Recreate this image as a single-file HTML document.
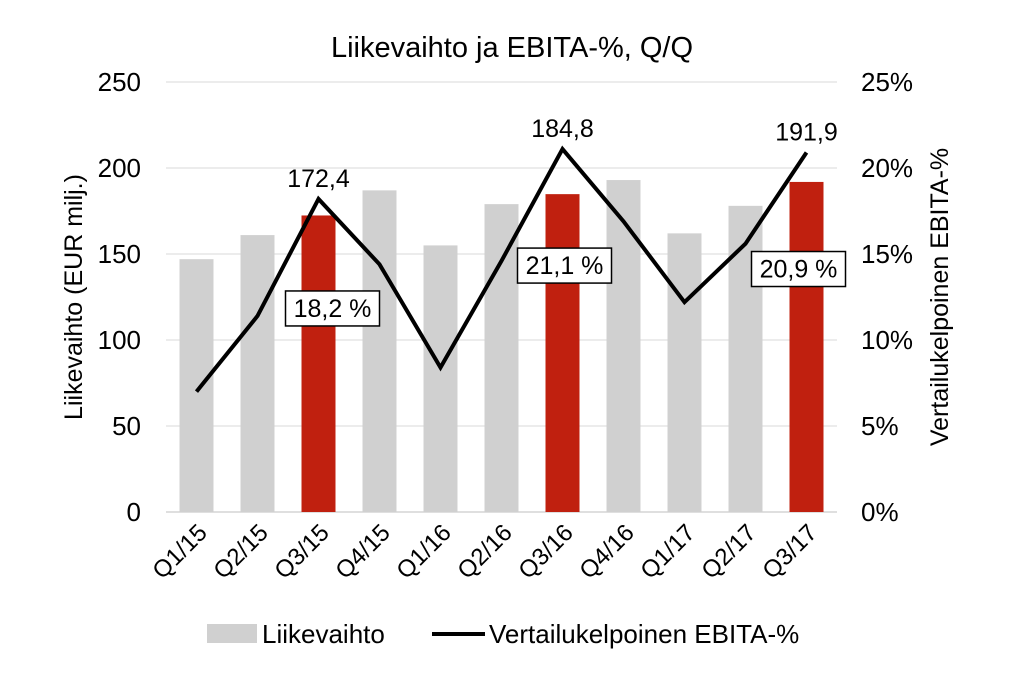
<!DOCTYPE html>
<html><head><meta charset="utf-8"><style>
body{margin:0;background:#fff;}
svg{display:block;font-family:"Liberation Sans",sans-serif;}
</style></head><body>
<svg width="1024" height="674" viewBox="0 0 1024 674" id="chart">
<text x="512" y="57" text-anchor="middle" font-size="29" fill="#000">Liikevaihto ja EBITA-%, Q/Q</text>
<g id="grid"></g><g id="bars"></g><g id="line"></g><g id="labels"></g><g id="axes"></g>
<text transform="translate(82,297) rotate(-90)" text-anchor="middle" font-size="25">Liikevaihto (EUR milj.)</text>
<text transform="translate(948,297) rotate(-90)" text-anchor="middle" font-size="25">Vertailukelpoinen  EBITA-%</text>
<g>
<rect x="207" y="624" width="50" height="19" fill="#d0d0d0"/>
<text x="262" y="643" font-size="26">Liikevaihto</text>
<line x1="432" y1="634" x2="485" y2="634" stroke="#000" stroke-width="4"/>
<text x="489" y="643" font-size="26">Vertailukelpoinen EBITA-%</text>
</g>
</svg>
<script>
const categories=["Q1/15","Q2/15","Q3/15","Q4/15","Q1/16","Q2/16","Q3/16","Q4/16","Q1/17","Q2/17","Q3/17"];
const revenue=[147,161,172.4,187,155,179,184.8,193,162,178,191.9];
const ebita=[7.0,11.4,18.2,14.4,8.4,14.6,21.1,16.9,12.2,15.6,20.9];
const highlighted=[2,6,10];
const revLabels=["172,4","184,8","191,9"];
const ebitaLabels=["18,2 %","21,1 %","20,9 %"];
const leftTicks=[0,50,100,150,200,250];
const rightTicks=["0%","5%","10%","15%","20%","25%"];
const NS="http://www.w3.org/2000/svg";
const x0=166,x1=837,y0=512,y1=82;
const step=(x1-x0)/categories.length;
const xc=i=>x0+step*(i+0.5);
const yL=v=>y0-(v/250)*(y0-y1);
const yR=v=>y0-(v/25)*(y0-y1);
function mk(t,a,p){const e=document.createElementNS(NS,t);for(const k in a)e.setAttribute(k,a[k]);p.appendChild(e);return e;}
const G=id=>document.getElementById(id);
leftTicks.forEach((t,i)=>{
 const y=yL(t);
 const l=mk("line",{x1:x0,x2:x1,y1:y,y2:y,stroke:t===0?"#bfbfbf":"#d9d9d9","stroke-width":1},G("grid"));
 
 
 const a=mk("text",{x:141,y:y+9,"text-anchor":"end","font-size":26},G("axes"));a.textContent=t;
 
 
 const b=mk("text",{x:861,y:y+9,"font-size":26},G("axes"));b.textContent=rightTicks[i];
 
 
});
categories.forEach((c,i)=>{
 const r=mk("rect",{x:xc(i)-17,y:yL(revenue[i]),width:34,height:y0-yL(revenue[i]),fill:highlighted.includes(i)?"#c0200f":"#d0d0d0"},G("bars"));
 
 
 const t=mk("text",{"text-anchor":"end","font-size":24,transform:`translate(${xc(i)+12},${y0+22}) rotate(-45)`},G("axes"));t.textContent=c;
 
 
});
const pl=mk("polyline",{points:ebita.map((v,i)=>xc(i)+","+yR(v)).join(" "),fill:"none",stroke:"#000","stroke-width":4,"stroke-linejoin":"miter"},G("line"));


const boxDx=[14,2,-8];
highlighted.forEach((i,k)=>{
 const t=mk("text",{x:xc(i),y:Math.min(yL(revenue[i]),yR(ebita[i]))-12,"text-anchor":"middle","font-size":25},G("labels"));t.textContent=revLabels[k];
 
 
 const cx=xc(i)+boxDx[k];
 const by=k===0?yR(ebita[i])+92:yR(ebita[i])+99;
 const r=mk("rect",{x:cx-47,y:by,width:94,height:35,fill:"#fff",stroke:"#000","stroke-width":1.5},G("labels"));
 
 
 const t2=mk("text",{x:cx,y:by+26,"text-anchor":"middle","font-size":25},G("labels"));t2.textContent=ebitaLabels[k];
 
 
});
</script>
</body></html>
